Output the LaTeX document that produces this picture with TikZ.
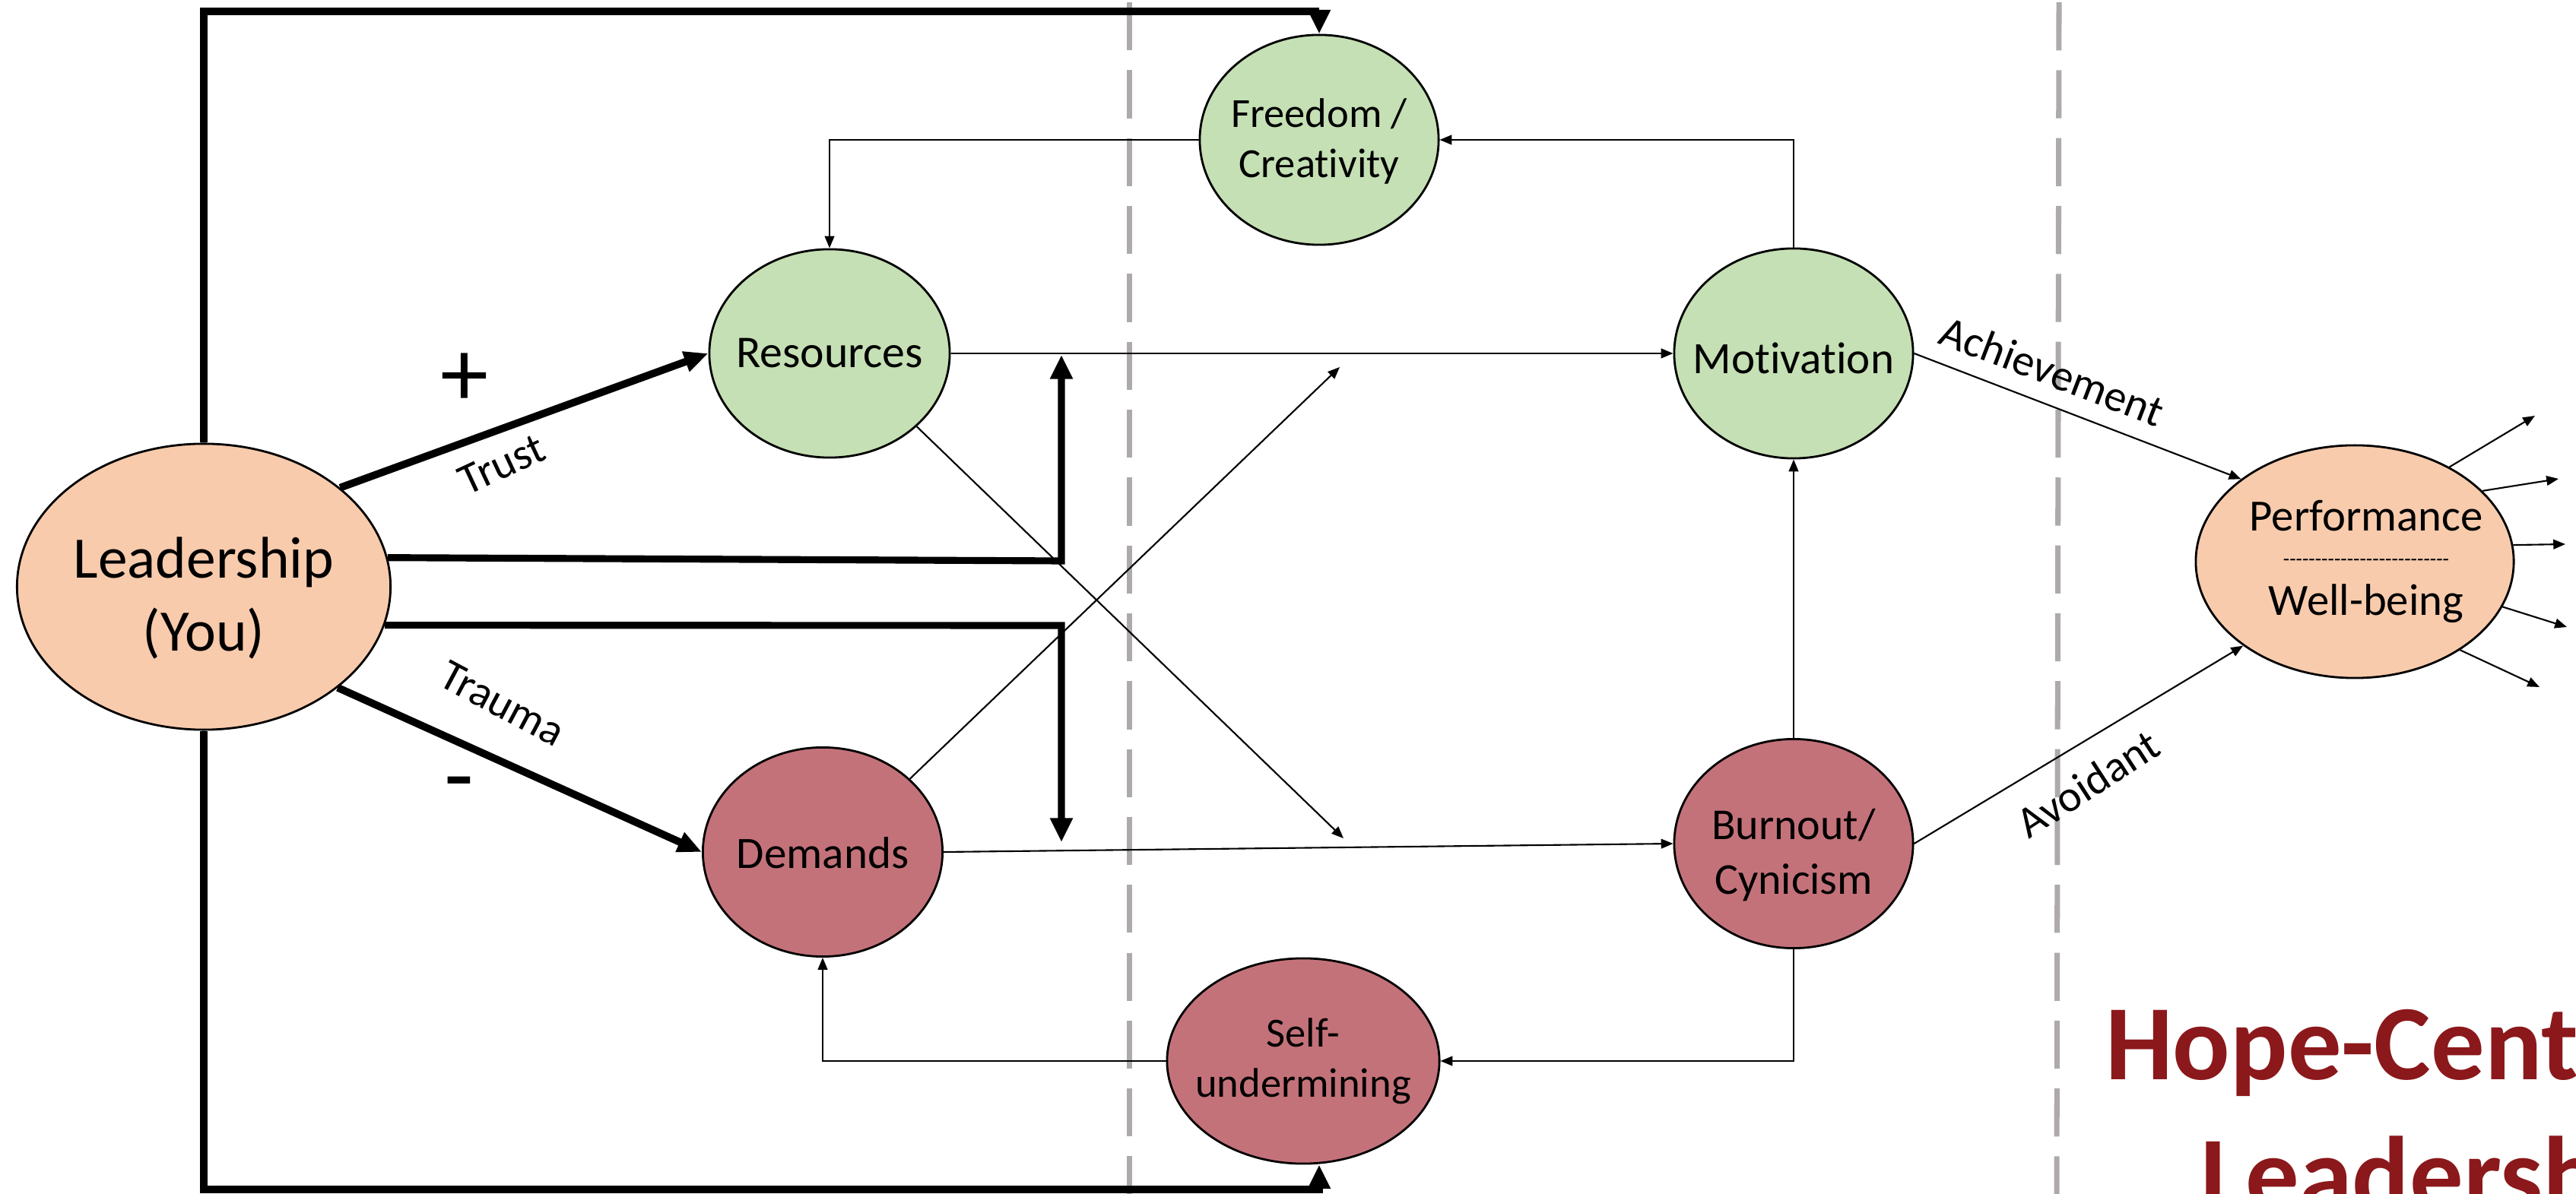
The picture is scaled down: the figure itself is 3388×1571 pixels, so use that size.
\documentclass[tikz,border=0pt]{standalone}
\usepackage{fontspec}
\setmainfont{Carlito}[Ligatures={TeX,NoCommon},Contextuals={NoAlternate}]
\usetikzlibrary{arrows.meta,shapes.geometric}
\definecolor{grn}{RGB}{197,224,180}
\definecolor{rd}{RGB}{196,114,122}
\definecolor{pch}{RGB}{248,203,173}
\definecolor{sepgray}{RGB}{174,170,170}
\definecolor{titlered}{RGB}{139,24,27}
\begin{document}
\begin{tikzpicture}[x=0.01cm,y=-0.01cm,
  bub/.style={ellipse, draw=black, line width=0.8pt, inner sep=0pt},
  btxt/.style={align=center, inner sep=0pt},
  conn/.style={line width=0.6pt, -{Triangle[length=4.5pt,width=3.6pt]}},
  thickarr/.style={line width=2.6pt, -{Triangle[length=9pt,width=8pt]}},
  diagarr/.style={line width=2.8pt, -{Triangle[length=9pt,width=7.5pt]}},
  lbl/.style={font=\fontsize{16.5}{20}\selectfont},
  sep/.style={draw=sepgray, line width=2pt, dash pattern=on 18pt off 7.4pt},
  ttl/.style={font=\bfseries\fontsize{40}{48}\selectfont, text=titlered, anchor=base}
]
\useasboundingbox (0,0) rectangle (3388,1571);
\clip (0,0) rectangle (3388,1571);

% separators
\draw[sep] (1485,3) -- (1485,1571);
\draw[sep] (2708,3) -- (2705,1571);

% ellipses
\node[bub, fill=pch, minimum width=4.91cm, minimum height=3.76cm] (lead) at (268,772) {};
\node[bub, fill=grn, minimum width=3.16cm, minimum height=2.74cm] (res) at (1091,465) {};
\node[bub, fill=rd, minimum width=3.15cm, minimum height=2.75cm] (dem) at (1082,1121) {};
\node[bub, fill=grn, minimum width=3.14cm, minimum height=2.76cm] (free) at (1735,184) {};
\node[bub, fill=grn, minimum width=3.14cm, minimum height=2.76cm] (mot) at (2359,465) {};
\node[bub, fill=rd, minimum width=3.14cm, minimum height=2.75cm] (burn) at (2359,1110) {};
\node[bub, fill=rd, minimum width=3.58cm, minimum height=2.70cm] (selfu) at (1714,1396) {};
\node[bub, fill=pch, minimum width=4.18cm, minimum height=3.06cm] (perf) at (3097,739) {};

% texts inside the ellipses
\node[btxt, font=\fontsize{22}{27.2}\selectfont] (leadT) at (268,787) {Leadership\\(You)};
\node[btxt, font=\fontsize{17}{20}\selectfont] (resT) at (1091,465) {Resources};
\node[btxt, font=\fontsize{16.8}{20}\selectfont] (demT) at (1082,1122) {Demands};
\node[btxt, font=\fontsize{15.5}{18.7}\selectfont] (freeT) at (1735,186) {Freedom /\\Creativity};
\node[btxt, font=\fontsize{16.8}{20}\selectfont] (motT) at (2359,471) {Motivation};
\node[btxt, font=\fontsize{16.5}{20.6}\selectfont] (burnT) at (2359,1125) {Burnout/\\Cynicism};
\node[btxt, font=\fontsize{15.5}{18.9}\selectfont] (selfuT) at (1714,1396) {Self-\\undermining};
\node[font=\fontsize{16.7}{20}\selectfont, anchor=base] (perfA) at (3112,699) {Performance};
\node[font=\fontsize{7.8}{9}\selectfont, anchor=base] (perfB) at (3112,745) {-{}-{}-{}-{}-{}-{}-{}-{}-{}-{}-{}-{}-{}-{}-{}-{}-{}-{}-{}-{}-{}-{}-{}-{}-{}-{}};
\node[font=\fontsize{16.7}{20}\selectfont, anchor=base] (perfC) at (3112,810) {Well-being};

% helper coordinates
\coordinate (topy) at (0,15);
\coordinate (boty) at (0,1565);
\coordinate (kup) at (1396,738);
\coordinate (kdn) at (1396,823);
\coordinate (kupend) at (1396,467);
\coordinate (kdnend) at (1396,1108);
\coordinate (crossA) at (1762,483);
\coordinate (crossB) at (1767,1103);
\coordinate (subot) at ([xshift=0.21cm]selfu.south);
\coordinate (o1) at (3334,547);
\coordinate (o2) at (3365,630);
\coordinate (o3) at (3374,716);
\coordinate (o4) at (3376,825);
\coordinate (o5) at (3340,904);

% thick connectors from leadership
\draw[thickarr] (lead.north) -- (lead.north |- topy) -- (free.north |- topy) -- (free.north);
\draw[thickarr] (lead.south) -- (lead.south |- boty) -- (subot |- boty) -- (subot);
\draw[diagarr] (lead.36) -- (res.west);
\draw[diagarr] (lead.-37) -- (dem.west);
\draw[thickarr] (lead.9) -- (kup) -- (kupend);
\draw[thickarr] (lead.-12) -- (kdn) -- (kdnend);

% thin connectors
\draw[conn] (res.east) -- (mot.west);
\draw[conn] (dem.east) -- (burn.west);
\draw[conn] (res.-40) -- (crossB);
\draw[conn] (dem.40) -- (crossA);
\draw[conn] (free.west) -| (res.north);
\draw[conn] (mot.north) |- (free.east);
\draw[conn] (burn.south) |- (selfu.east);
\draw[conn] (selfu.west) -| (dem.south);
\draw[conn] (burn.north) -- (mot.south);
\draw[conn] (mot.east) -- (perf.144);
\draw[conn] (burn.east) -- (perf.-143);
\draw[conn] (perf.45) -- (o1);
\draw[conn] (perf.29) -- (o2);
\draw[conn] (perf.6) -- (o3);
\draw[conn] (perf.-17) -- (o4);
\draw[conn] (perf.-40) -- (o5);

% labels
\node[lbl, rotate=25] (ltrust) at (660,611) {Trust};
\node[lbl, rotate=-28] (ltrauma) at (661,926) {Trauma};
\node[lbl, rotate=-21] (lach) at (2699,488) {Achievement};
\node[lbl, rotate=33] (lavo) at (2746,1031) {Avoidant};
\node[font=\fontsize{36}{40}\selectfont] (plus) at (611,500) {+};
\node[font=\fontsize{36}{40}\selectfont] (minus) at (604,1042) {-};

% title
\node[ttl] (title1) at (3212,1420) {Hope-Centered};
\node[ttl] (title2) at (3212,1593) {Leadership};
\end{tikzpicture}
\end{document}
